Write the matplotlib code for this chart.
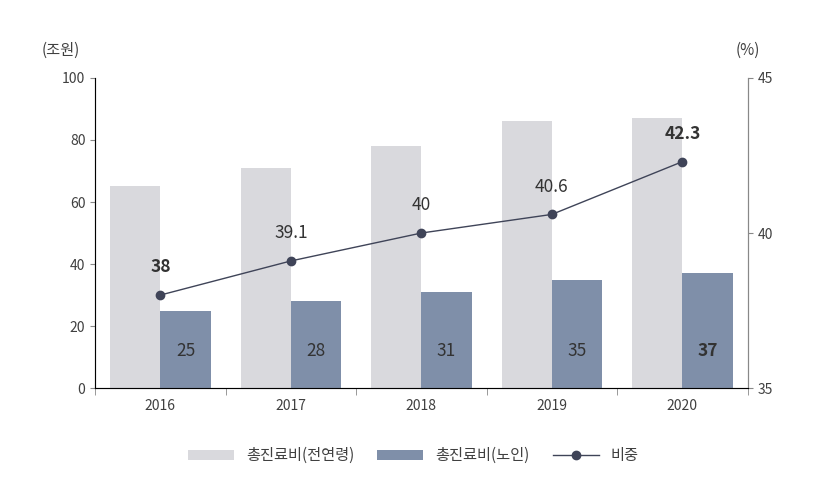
import matplotlib
matplotlib.use("Agg")
import matplotlib.pyplot as plt
import numpy as np

plt.rcParams["font.family"] = ["Noto Sans CJK KR", "DejaVu Sans"]

years = ["2016", "2017", "2018", "2019", "2020"]
total_all = [65, 71, 78, 86, 87]
total_elder = [25, 28, 31, 35, 37]
share = [38, 39.1, 40, 40.6, 42.3]
share_labels = ["38", "39.1", "40", "40.6", "42.3"]
bold_share = [True, False, False, False, True]
bold_elder = [False, False, False, False, True]

fig = plt.figure(figsize=(8.27, 4.78), dpi=100)
ax = fig.add_axes([0.115, 0.188, 0.789, 0.649])
x = np.arange(len(years))
w = 0.385
tc = "#404040"
b1 = ax.bar(x - w/2, total_all, w, color="#D9D9DD", label="총진료비(전연령)")
b2 = ax.bar(x + w/2, total_elder, w, color="#7F8FA9", label="총진료비(노인)")
for xi, v, b in zip(x, total_elder, bold_elder):
    ax.text(xi + w/2, 12, str(v), ha="center", va="center", fontsize=12.5,
            color="#333333", fontweight="bold" if b else "normal")
ax.set_xlim(-0.5, 4.5)
ax.set_ylim(0, 100)
ax.set_yticks(range(0, 101, 20))
ax.set_xticks(x)
ax.set_xticklabels(years)
ax.set_xticks(np.arange(-0.5, 5, 1), minor=True)
ax.tick_params(axis="x", which="major", length=0, labelsize=10, colors=tc, pad=8)
ax.tick_params(axis="x", which="minor", length=5, color="#888888")
ax.tick_params(axis="y", labelsize=10, colors=tc, color="#888888")
for s in ["top"]:
    ax.spines[s].set_visible(False)
for s in ["left", "right", "bottom"]:
    ax.spines[s].set_color("#888888")

ax2 = ax.twinx()
ax2.set_ylim(35, 45)
ax2.set_yticks([35, 40, 45])
ax2.tick_params(axis="y", labelsize=10, colors=tc, color="#888888")
ax2.spines["top"].set_visible(False)
ax2.spines["right"].set_color("#888888")
l, = ax2.plot(x, share, color="#3F4458", marker="o", markersize=6, linewidth=1, label="비중")
for xi, v, lab, b in zip(x, share, share_labels, bold_share):
    ax2.text(xi, v + 0.6, lab, ha="center", va="bottom", fontsize=12.5,
             color="#333333", fontweight="bold" if b else "normal")

fig.text(0.05, 0.885, "(조원)", fontsize=11, color=tc)
fig.text(0.89, 0.885, "(%)", fontsize=11, color=tc)
fig.legend([b1, b2, l], ["총진료비(전연령)", "총진료비(노인)", "비중"], loc="lower center",
           ncol=3, frameon=False, fontsize=11, bbox_to_anchor=(0.5, 0.0),
           handlelength=3, columnspacing=1.5, labelcolor=tc)
fig.savefig("out.png", dpi=100)
